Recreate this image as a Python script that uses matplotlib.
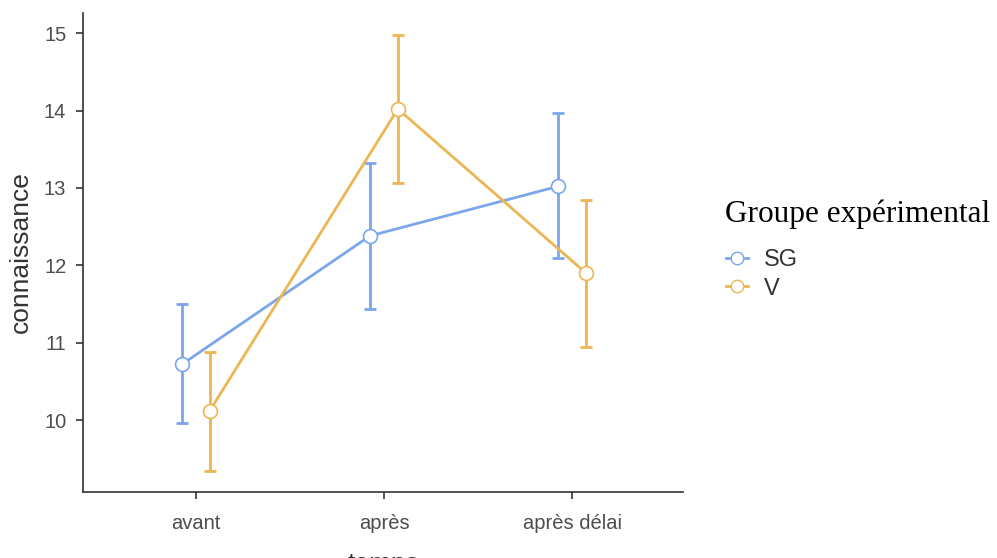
import matplotlib
matplotlib.use("Agg")
import matplotlib.pyplot as plt
from matplotlib.lines import Line2D
import numpy as np

categories = ["avant", "après", "après délai"]
groups = ["SG", "V"]
sg_mean = [10.72, 12.38, 13.02]
sg_low = [9.96, 11.43, 12.09]
sg_high = [11.50, 13.32, 13.97]
v_mean = [10.12, 14.02, 11.90]
v_low = [9.34, 13.06, 10.94]
v_high = [10.88, 14.97, 12.84]
colors = {"SG": "#7BA7EA", "V": "#EBB653"}

plt.rcParams['font.family'] = ['Liberation Sans', 'DejaVu Sans']
fig = plt.figure(figsize=(9.97, 5.58), dpi=100)
ax = fig.add_axes([83/997, 1-492/558, 600/997, (492-13)/558])

x = np.arange(len(categories))
dodge = 0.074
data = {"SG": (sg_mean, sg_low, sg_high, -dodge), "V": (v_mean, v_low, v_high, dodge)}
for g in groups:
    m, lo, hi, off = data[g]
    m = np.array(m); lo = np.array(lo); hi = np.array(hi)
    xs = x + off
    ax.errorbar(xs, m, yerr=[m - lo, hi - m], fmt='none', ecolor=colors[g],
                elinewidth=2, capsize=4.5, capthick=2, zorder=2)
    ax.plot(xs, m, color=colors[g], lw=2, zorder=3)
    ax.plot(xs, m, 'o', ms=10, mfc='white', mec=colors[g], mew=1.2, zorder=4)

ax.set_xlim(-0.6, 2.59)
ax.set_ylim(9.07, 15.26)
ax.set_xticks(x)
ax.set_xticklabels(categories)
ax.set_yticks([10, 11, 12, 13, 14, 15])
for s in ['top', 'right']:
    ax.spines[s].set_visible(False)
for s in ['left', 'bottom']:
    ax.spines[s].set_color('#333333')
    ax.spines[s].set_linewidth(1.2)
ax.tick_params(colors='#333333', labelcolor='#4D4D4D', labelsize=14.5, length=5, width=1.2)
ax.tick_params(axis='x', pad=11)
ax.tick_params(axis='y', pad=7)
ax.set_ylabel("connaissance", fontsize=19, color='#333333', labelpad=8)

fig.text(384/997, 1-552/558, "temps", ha='center', va='top', fontsize=19, color='#333333')

fig.text(725/997, 1-222/558, "Groupe expérimental", ha='left', va='baseline',
         fontsize=22.5, family='Liberation Serif', color='black')

handles = [Line2D([0], [0], color=colors[g], lw=2, marker='o', ms=9, mfc='white', mec=colors[g]) for g in groups]
leg = fig.legend(handles, groups, loc='upper left', bbox_to_anchor=(726/997, 1-249/558),
                 frameon=False, fontsize=17, handlelength=0.95, handletextpad=0.65,
                 labelspacing=0.28, borderpad=0, borderaxespad=0)
for t in leg.get_texts():
    t.set_color('#333333')

fig.savefig("out.png", dpi=100)
